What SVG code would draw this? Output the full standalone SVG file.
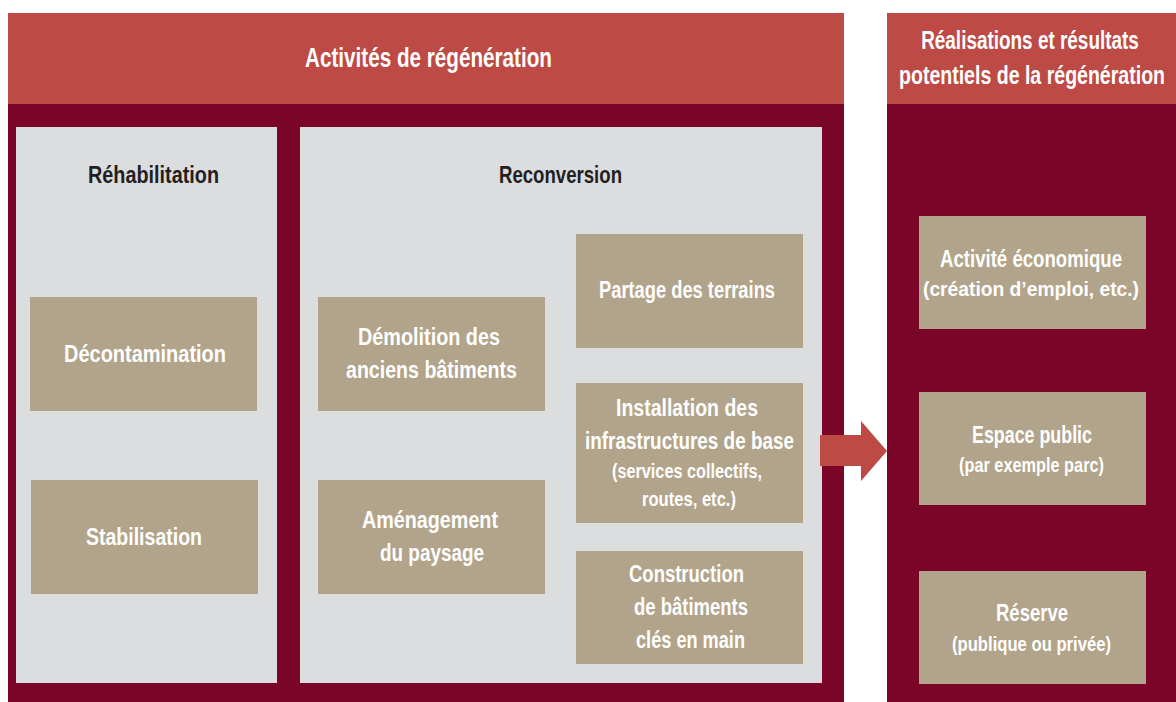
<svg xmlns="http://www.w3.org/2000/svg" width="1176" height="702" viewBox="0 0 1176 702">
<style>
.hdr{fill:#BE4A45}
.body{fill:#7A0529}
.grey{fill:#DCDDDF}
.box{fill:#B2A48A}
text{font-family:"Liberation Sans Narrow","Liberation Sans",Arial,sans-serif;font-weight:bold;text-anchor:middle}
.t{fill:#FFFFFF;font-size:24px}
.s{fill:#FFFFFF;font-size:20px}
.h{fill:#FFFFFF;font-size:27px}
.h2{fill:#FFFFFF;font-size:25px}
.sec{fill:#231F20;font-size:24px}
</style>
<rect width="1176" height="702" fill="#FFFFFF"/>
<g id="panel-activites">
<rect class="hdr" x="8" y="13" width="836" height="91"/>
<rect class="body" x="8" y="104" width="836" height="598"/>
<text class="h" x="428.5" y="67" textLength="247" lengthAdjust="spacingAndGlyphs">Activités de régénération</text>
</g>
<g id="panel-realisations">
<rect class="hdr" x="887" y="13" width="289" height="91"/>
<rect class="body" x="887" y="104" width="289" height="598"/>
<text class="h2" transform="translate(1030 49) scale(0.7 1)" x="0" y="0" textLength="311" lengthAdjust="spacingAndGlyphs">Réalisations et résultats</text>
<text class="h2" transform="translate(1032 84) scale(0.7 1)" x="0" y="0" textLength="380" lengthAdjust="spacingAndGlyphs">potentiels de la régénération</text>
</g>
<g id="rehabilitation">
<rect class="grey" x="16" y="127" width="261" height="556"/>
<text class="sec" x="153.5" y="183" textLength="131" lengthAdjust="spacingAndGlyphs">Réhabilitation</text>
</g>
<g id="reconversion">
<rect class="grey" x="300" y="127" width="522" height="556"/>
<text class="sec" x="560.5" y="183" textLength="123" lengthAdjust="spacingAndGlyphs">Reconversion</text>
</g>
<g id="decontamination">
<rect class="box" x="30" y="297" width="227" height="114"/>
<text class="t" x="145" y="362" textLength="162" lengthAdjust="spacingAndGlyphs">Décontamination</text>
</g>
<g id="stabilisation">
<rect class="box" x="31" y="480" width="227" height="114"/>
<text class="t" x="144" y="545" textLength="116" lengthAdjust="spacingAndGlyphs">Stabilisation</text>
</g>
<g id="demolition">
<rect class="box" x="318" y="297" width="227" height="114"/>
<text class="t" x="429" y="345" textLength="142" lengthAdjust="spacingAndGlyphs">Démolition des</text>
<text class="t" x="431.5" y="378" textLength="171" lengthAdjust="spacingAndGlyphs">anciens bâtiments</text>
</g>
<g id="amenagement">
<rect class="box" x="318" y="480" width="227" height="114"/>
<text class="t" x="430" y="528" textLength="136" lengthAdjust="spacingAndGlyphs">Aménagement</text>
<text class="t" x="432" y="561" textLength="104" lengthAdjust="spacingAndGlyphs">du paysage</text>
</g>
<g id="partage">
<rect class="box" x="576" y="234" width="227" height="114"/>
<text class="t" x="687" y="298" textLength="176" lengthAdjust="spacingAndGlyphs">Partage des terrains</text>
</g>
<g id="installation">
<rect class="box" x="576" y="383" width="227" height="140"/>
<text class="t" x="687" y="416" textLength="142" lengthAdjust="spacingAndGlyphs">Installation des</text>
<text class="t" x="689.5" y="449" textLength="209" lengthAdjust="spacingAndGlyphs">infrastructures de base</text>
<text class="s" x="687" y="478" textLength="150" lengthAdjust="spacingAndGlyphs">(services collectifs,</text>
<text class="s" x="689" y="506" textLength="94" lengthAdjust="spacingAndGlyphs">routes, etc.)</text>
</g>
<g id="construction">
<rect class="box" x="576" y="551" width="227" height="113"/>
<text class="t" x="686.5" y="582" textLength="115" lengthAdjust="spacingAndGlyphs">Construction</text>
<text class="t" x="691" y="615" textLength="114" lengthAdjust="spacingAndGlyphs">de bâtiments</text>
<text class="t" x="690.5" y="648" textLength="109" lengthAdjust="spacingAndGlyphs">clés en main</text>
</g>
<g id="activite">
<rect class="box" x="919" y="216" width="227" height="113"/>
<text class="t" x="1031" y="267" textLength="182" lengthAdjust="spacingAndGlyphs">Activité économique</text>
<text class="s" x="1031" y="296" textLength="216" lengthAdjust="spacingAndGlyphs">(création d’emploi, etc.)</text>
</g>
<g id="espace">
<rect class="box" x="919" y="392" width="227" height="113"/>
<text class="t" x="1032" y="443" textLength="120" lengthAdjust="spacingAndGlyphs">Espace public</text>
<text class="s" x="1031.5" y="472" textLength="145" lengthAdjust="spacingAndGlyphs">(par exemple parc)</text>
</g>
<g id="reserve">
<rect class="box" x="919" y="571" width="227" height="113"/>
<text class="t" x="1032" y="621" textLength="72" lengthAdjust="spacingAndGlyphs">Réserve</text>
<text class="s" x="1031.5" y="651" textLength="159" lengthAdjust="spacingAndGlyphs">(publique ou privée)</text>
</g>
<g id="connectors">
<polygon fill="#BE4A45" points="820,435 861,435 861,421 887,451 861,481 861,466 820,466"/>
</g>
</svg>
